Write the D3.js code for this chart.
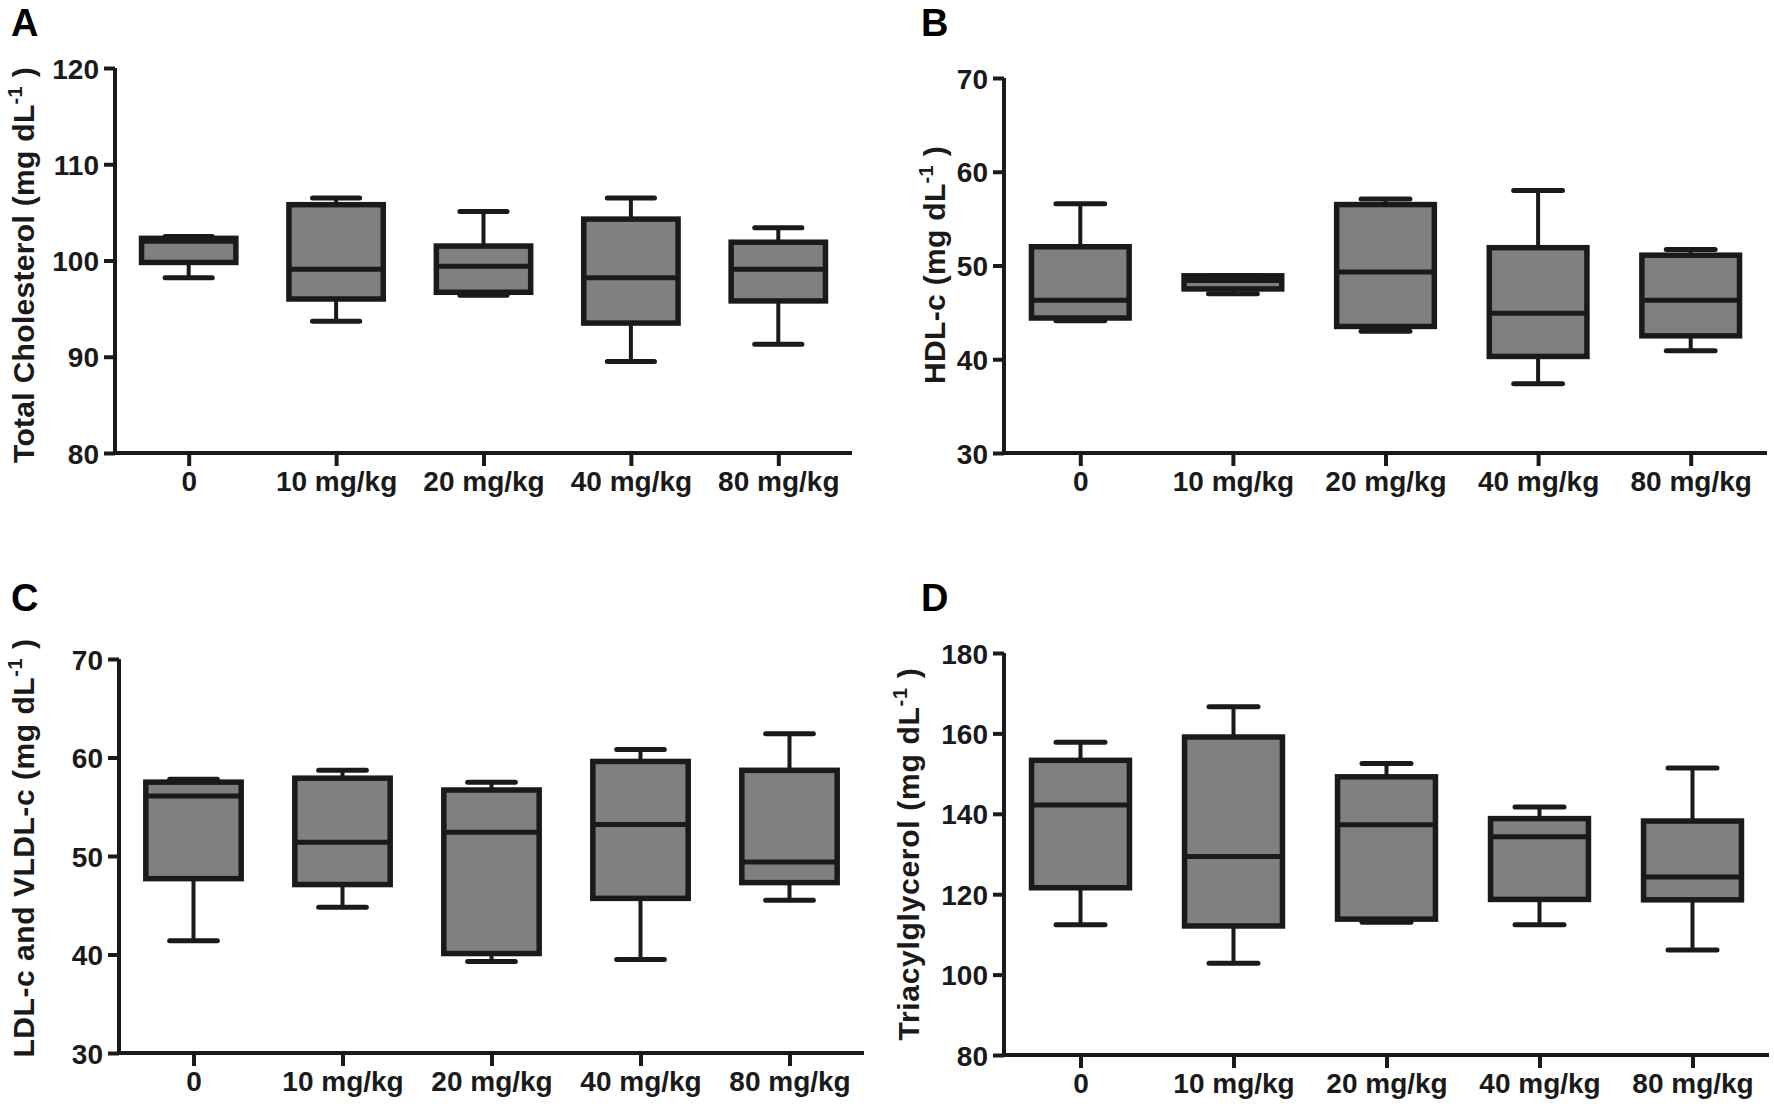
<!DOCTYPE html>
<html>

<head>
  <meta charset="utf8">
  <script src="https://d3js.org/d3.v7.min.js"></script>
  <style>
    body { margin: 0; background: #fff; }
    text { font-family: "Liberation Sans", Arial, sans-serif; font-weight: bold; fill: #1a1a1a; }
    .panel-label { font-size: 38px; font-weight: 700; fill: #000; }
    .tick-label { font-size: 28px; }
    .axis-title { font-size: 30px; }
  </style>
</head>

<body>
  <svg id="chart" width="1774" height="1104"></svg>
  <script>
    // groups on the x axis
    var groups = ['0', '10 mg/kg', '20 mg/kg', '40 mg/kg', '80 mg/kg'];

    // five-number summaries per group: [min, q1, median, q3, max]
    var totalCholesterol = [
      [98.2, 99.8, 102.0, 102.3, 102.5],
      [93.7, 96.0, 99.1, 105.8, 106.5],
      [96.4, 96.7, 99.4, 101.5, 105.1],
      [89.5, 93.5, 98.2, 104.3, 106.5],
      [91.3, 95.8, 99.1, 101.9, 103.4]
    ];
    var hdl = [
      [44.1, 44.4, 46.3, 52.0, 56.6],
      [47.0, 47.5, 48.4, 48.9, 48.9],
      [43.0, 43.5, 49.3, 56.5, 57.1],
      [37.4, 40.3, 44.9, 51.9, 58.0],
      [40.9, 42.5, 46.3, 51.1, 51.7]
    ];
    var ldl = [
      [41.4, 47.7, 56.1, 57.5, 57.8],
      [44.8, 47.1, 51.4, 57.9, 58.7],
      [39.3, 40.1, 52.4, 56.7, 57.5],
      [39.5, 45.7, 53.2, 59.6, 60.8],
      [45.5, 47.3, 49.4, 58.7, 62.4]
    ];
    var triacylglycerol = [
      [112.4, 121.6, 142.2, 153.3, 157.8],
      [102.8, 112.1, 129.4, 159.1, 166.6],
      [113.0, 113.8, 137.3, 149.2, 152.5],
      [112.4, 118.7, 134.3, 138.8, 141.7],
      [106.1, 118.6, 124.3, 138.2, 151.4]
    ];

    var ticksA = [80, 90, 100, 110, 120];
    var ticksB = [30, 40, 50, 60, 70];
    var ticksC = [30, 40, 50, 60, 70];
    var ticksD = [80, 100, 120, 140, 160, 180];

    // layout: plot box, letter position, title x / centre / length
    var panels = [
      { label: 'A', title: 'Total Cholesterol', data: totalCholesterol, ticks: ticksA,
        x0: 115, x1: 852, y0: 453, y1: 68, lx: 11, ly: 36, tx: 23, tc: 265, tl: 396 },
      { label: 'B', title: 'HDL-c', data: hdl, ticks: ticksB,
        x0: 1004, x1: 1767, y0: 453, y1: 78, lx: 921, ly: 36, tx: 934, tc: 265, tl: 238 },
      { label: 'C', title: 'LDL-c and VLDL-c', data: ldl, ticks: ticksC,
        x0: 119, x1: 864, y0: 1053, y1: 659, lx: 11, ly: 611, tx: 23, tc: 848, tl: 419 },
      { label: 'D', title: 'Triacylglycerol', data: triacylglycerol, ticks: ticksD,
        x0: 1004, x1: 1769, y0: 1055, y1: 653, lx: 921, ly: 611, tx: 908, tc: 854, tl: 373 }
    ];

    var svg = d3.select('#chart');
    var dark = '#1a1a1a';
    var fill = '#808080';

    panels.forEach(function (p) {
      var g = svg.append('g');

      var x = d3.scalePoint().domain(groups).range([p.x0, p.x1]).padding(0.5);
      var y = d3.scaleLinear().domain(d3.extent(p.ticks)).range([p.y0, p.y1]);
      var step = x.step();
      var boxW = step * 0.64;
      var capW = step * 0.32;

      // axes
      var yAxis = g.append('g')
        .attr('transform', 'translate(' + p.x0 + ',0)')
        .call(d3.axisLeft(y).tickValues(p.ticks).tickSize(11).tickPadding(5));
      var xAxis = g.append('g')
        .attr('transform', 'translate(0,' + p.y0 + ')')
        .call(d3.axisBottom(x).tickSize(13).tickPadding(0));
      xAxis.select('.domain').attr('d', 'M' + p.x0 + ',0H' + p.x1);
      yAxis.select('.domain').attr('d', 'M0,' + p.y0 + 'V' + p.y1);
      [xAxis, yAxis].forEach(function (a) {
        a.selectAll('.domain, line').attr('stroke', dark).attr('stroke-width', 4);
        a.selectAll('text').attr('class', 'tick-label').attr('fill', dark);
      });
      yAxis.selectAll('text').attr('dy', '0.36em');
      xAxis.selectAll('text').attr('y', 38).attr('dy', 0);

      // boxes
      var box = g.selectAll('.box')
        .data(p.data)
        .enter()
        .append('g')
        .attr('class', 'box');

      box.append('line')
        .attr('x1', (d, i) => x(groups[i]))
        .attr('x2', (d, i) => x(groups[i]))
        .attr('y1', (d) => y(d[4]))
        .attr('y2', (d) => y(d[0]))
        .attr('stroke', dark).attr('stroke-width', 4);

      box.selectAll('.cap')
        .data((d, i) => [{ v: d[0], i: i }, { v: d[4], i: i }])
        .enter()
        .append('line')
        .attr('x1', (d) => x(groups[d.i]) - capW / 2)
        .attr('x2', (d) => x(groups[d.i]) + capW / 2)
        .attr('y1', (d) => y(d.v))
        .attr('y2', (d) => y(d.v))
        .attr('stroke', dark).attr('stroke-width', 5)
        .attr('stroke-linecap', 'round');

      box.append('rect')
        .attr('x', (d, i) => x(groups[i]) - boxW / 2)
        .attr('width', boxW)
        .attr('y', (d) => y(d[3]))
        .attr('height', (d) => y(d[1]) - y(d[3]))
        .attr('fill', fill)
        .attr('stroke', dark).attr('stroke-width', 5.5);

      box.append('line')
        .attr('x1', (d, i) => x(groups[i]) - boxW / 2)
        .attr('x2', (d, i) => x(groups[i]) + boxW / 2)
        .attr('y1', (d) => y(d[2]))
        .attr('y2', (d) => y(d[2]))
        .attr('stroke', dark).attr('stroke-width', 5);

      // y title, spaced out to the width it has in the figure
      var t = g.append('text')
        .attr('class', 'axis-title')
        .attr('text-anchor', 'middle')
        .attr('transform', 'translate(' + p.tx + ',' + p.tc + ') rotate(-90)')
        .attr('dy', '0.35em');
      t.append('tspan').text(p.title + ' (mg dL');
      t.append('tspan').attr('dy', -12).style('font-size', '20px').text('-1');
      t.append('tspan').attr('dy', 12).text(' )');
      var natural = t.node().getComputedTextLength();
      var nChars = (p.title + ' (mg dL-1 )').length;
      t.style('letter-spacing', ((p.tl - natural) / nChars) + 'px');

      // panel letter
      g.append('text')
        .attr('class', 'panel-label')
        .attr('x', p.lx)
        .attr('y', p.ly)
        .text(p.label);
    });
  </script>
</body>

</html>
